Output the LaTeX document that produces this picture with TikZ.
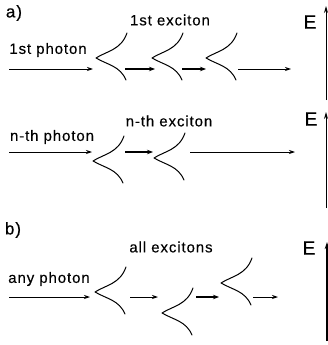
\documentclass[tikz,border=0pt]{standalone}
\usepackage{fontspec}
\setmainfont{Liberation Sans}[LetterSpace=6,FakeBold=0.3]
\usetikzlibrary{arrows.meta}
\tikzset{
  lbl/.style={inner sep=0pt, font=\fontsize{15}{17}\selectfont},
  big/.style={inner sep=0pt, font=\fontsize{17}{19}\selectfont},
  bigE/.style={inner sep=0pt, font=\fontsize{19}{21}\selectfont},
  exc/.style={line width=1pt, line cap=round, line join=round},
  thinarr/.style={line width=0.8pt, -{Stealth[length=6pt,width=4pt]}},
  thickarr/.style={line width=1.5pt, -{Stealth[length=6pt,width=4.5pt]}},
  axisarr/.style={line width=0.9pt, -{Stealth[length=7pt,width=4pt]}},
  axisbold/.style={line width=1.5pt, -{Stealth[length=7pt,width=4.5pt]}}
}
\newcommand\excit[3]{%
  \coordinate (#1) at (#2,#3);
  \draw[exc] ([shift={(31,-25)}]#1) .. controls ([shift={(25,-8)}]#1) and ([shift={(11,-7)}]#1) .. (#1)
     .. controls ([shift={(12,7)}]#1) and ([shift={(24,8)}]#1) .. ([shift={(30,22)}]#1);
}
\begin{document}
\begin{tikzpicture}[x=1pt,y=-1pt]
\useasboundingbox (0,0) rectangle (328,345);
% ---------- a) first row
\node[big] (la) at (14,13) {a)};
\node[lbl] (t1e) at (170,20) {1st exciton};
\node[lbl] (t1p) at (48,50) {1st photon};
\coordinate (p1s) at (9,69);
\coordinate (p1e) at (93,69);
\excit{x11}{96}{58}
\excit{x12}{152}{58}
\excit{x13}{206}{58}
\coordinate (a11s) at (125,69);
\coordinate (a11e) at (155,69);
\coordinate (a12s) at (182,69);
\coordinate (a12e) at (206,69);
\coordinate (a13s) at (238,69);
\coordinate (a13e) at (291,69);
\draw[thinarr] (p1s) -- (p1e);
\draw[thickarr] (a11s) -- (a11e);
\draw[thickarr] (a12s) -- (a12e);
\draw[thinarr] (a13s) -- (a13e);
\node[bigE] (E1) at (310,22) {E};
\coordinate (ax1b) at (326,100);
\coordinate (ax1t) at (326,6);
\draw[axisarr] (ax1b) -- (ax1t);
% ---------- a) second row
\node[lbl] (t2e) at (169,121) {n-th exciton};
\node[lbl] (t2p) at (52,137) {n-th photon};
\coordinate (p2s) at (9,152);
\coordinate (p2e) at (92,152);
\excit{x21}{93}{161}
\excit{x22}{154}{158}
\coordinate (a21s) at (125,152);
\coordinate (a21e) at (153,152);
\coordinate (a22s) at (190,152);
\coordinate (a22e) at (295,152);
\draw[thinarr] (p2s) -- (p2e);
\draw[thickarr] (a21s) -- (a21e);
\draw[thinarr] (a22s) -- (a22e);
\node[bigE] (E2) at (311,119) {E};
\coordinate (ax2b) at (326,208);
\coordinate (ax2t) at (326,112);
\draw[axisarr] (ax2b) -- (ax2t);
% ---------- b)
\node[big] (lb) at (13,230) {b)};
\node[lbl] (t3e) at (171,247) {all excitons};
\node[lbl] (t3p) at (49,279) {any photon};
\coordinate (p3s) at (9,297);
\coordinate (p3e) at (90,297);
\excit{x31}{95}{292}
\excit{x32}{162}{313}
\excit{x33}{221}{283}
\coordinate (a31s) at (130,297);
\coordinate (a31e) at (158,297);
\coordinate (a32s) at (196,297);
\coordinate (a32e) at (219,297);
\coordinate (a33s) at (253,297);
\coordinate (a33e) at (278,297);
\draw[thinarr] (p3s) -- (p3e);
\draw[thinarr] (a31s) -- (a31e);
\draw[thickarr] (a32s) -- (a32e);
\draw[thinarr] (a33s) -- (a33e);
\node[bigE] (E3) at (309,248) {E};
\coordinate (ax3b) at (327,341);
\coordinate (ax3t) at (327,242);
\draw[axisbold] (ax3b) -- (ax3t);
\end{tikzpicture}
\end{document}
